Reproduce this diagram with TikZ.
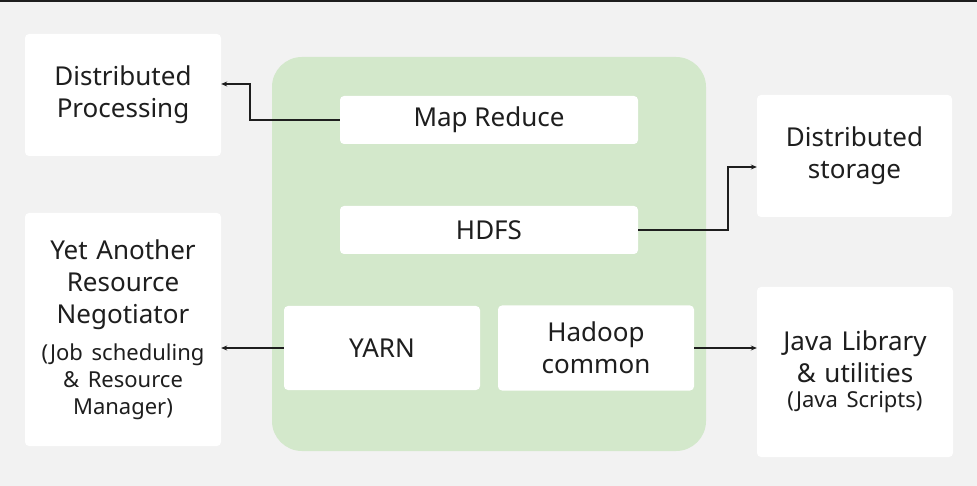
\documentclass[tikz,border=0pt]{standalone}
\usepackage{fontspec}
\setmainfont{Noto Sans}
\usetikzlibrary{arrows.meta}
\definecolor{bg}{HTML}{F2F2F2}
\definecolor{grn}{HTML}{D3E8CB}
\definecolor{ln}{HTML}{1E1E1E}
\newcommand{\subf}{\fontsize{22}{27}\selectfont}
\begin{document}
\begin{tikzpicture}[x=1pt,y=-1pt,
  box/.style={fill=white, rounded corners=4pt, inner sep=0pt, align=center,
    font=\fontsize{26}{32}\selectfont, text=ln},
  wbox/.style={box, text width=190pt},
  arr/.style={draw=ln, line width=1.1pt, -{Stealth[length=6pt,width=5pt]}}]
\useasboundingbox (0,0) rectangle (977,486);
\fill[bg] (0,0) rectangle (977,486);
\fill[ln] (0,0) rectangle (977,2);
% central hadoop block
\node[fill=grn, rounded corners=30pt, minimum width=434pt, minimum height=394pt, inner sep=0pt] (hadoop) at (489,254) {};
\node[box, minimum width=298pt, minimum height=48pt] (mr) at (489,120) {Map Reduce};
\node[box, minimum width=298pt, minimum height=48pt] (hdfs) at (489,230) {HDFS};
\node[box, minimum width=196pt, minimum height=84pt] (yarn) at (382,348) {YARN};
\node[box, minimum width=196pt, minimum height=85pt] (hc) at (596,348) {Hadoop\\common};
% outer boxes
\node[box, minimum width=196pt, minimum height=122pt] (dp) at (123,95) {Distributed\\Processing};
\node[box, minimum width=195pt, minimum height=122pt] (ds) at (854.5,156) {Distributed\\storage};
\node[wbox, minimum width=196pt, minimum height=233pt] (yb) at (123,329.5)
  {Yet Another\\Resource\\Negotiator\par\vspace{10pt}{\subf (Job scheduling\\\& Resource\\Manager)\par}};
\node[wbox, minimum width=196pt, minimum height=170pt] (jv) at (855,372)
  {Java Library\\\& utilities\par\vspace{-2pt}{\subf (Java Scripts)\par}};
% connectors
\draw[arr] (mr.west) -- (mr.west -| 250,0) |- ([yshift=11pt]dp.east);
\draw[arr] (hdfs.east) -- (hdfs.east -| 728,0) |- ([yshift=-11pt]ds.west);
\draw[arr] (yarn.west) -- (yarn.west -| yb.east);
\draw[arr] (hc.east) -- (hc.east -| jv.west);
\end{tikzpicture}
\end{document}
